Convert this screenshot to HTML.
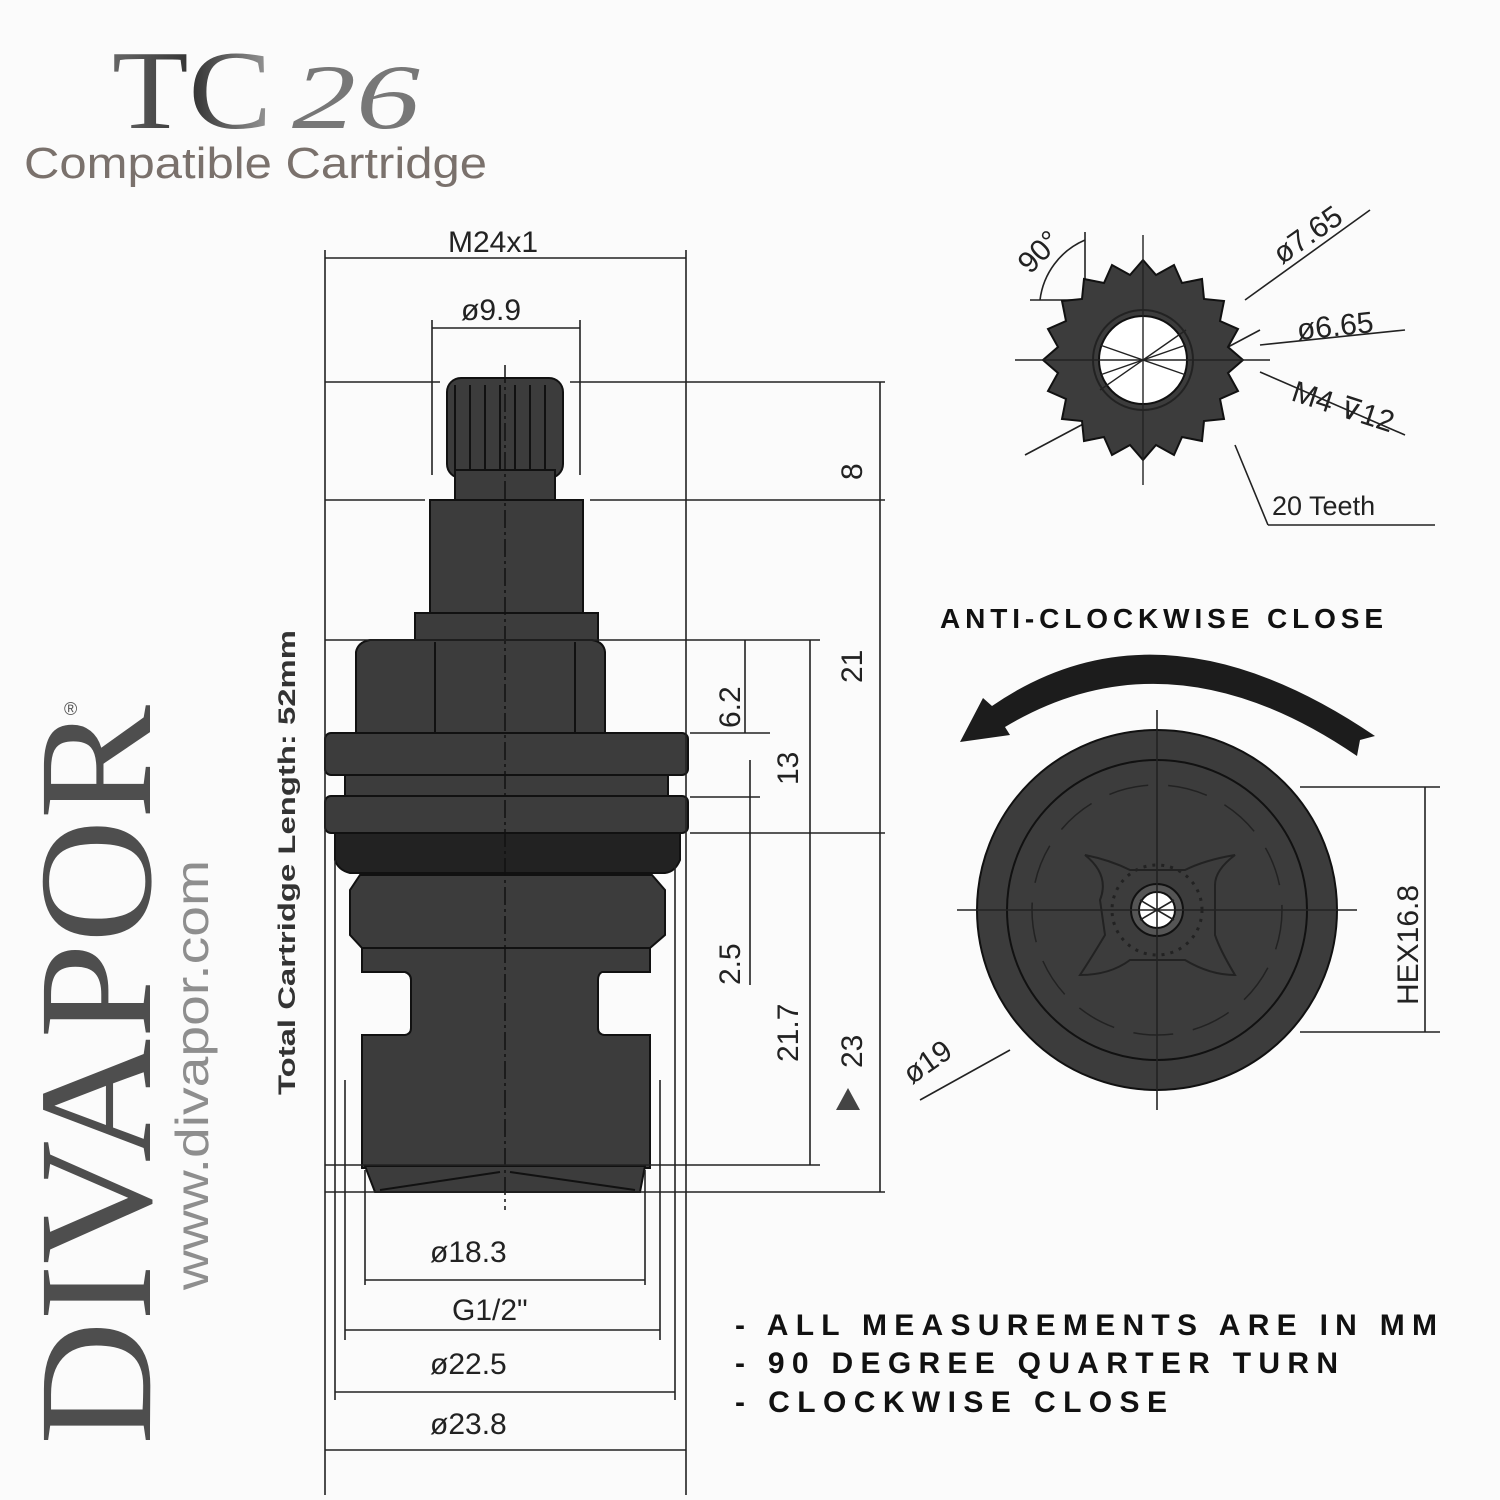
<!DOCTYPE html>
<html><head><meta charset="utf-8"><style>
html,body{margin:0;padding:0;background:#fbfbfb;}
svg{display:block;}
</style></head><body>
<svg width="1500" height="1500" viewBox="0 0 1500 1500" xmlns="http://www.w3.org/2000/svg">
<defs>
<linearGradient id="tg" x1="0" y1="0" x2="1" y2="0">
<stop offset="0" stop-color="#666"/><stop offset="0.5" stop-color="#333"/><stop offset="1" stop-color="#999"/>
</linearGradient>
</defs>
<rect width="1500" height="1500" fill="#fbfbfb"/>

<!-- Title -->
<text x="112" y="128" font-family="Liberation Serif, serif" font-size="112" fill="url(#tg)" textLength="160" lengthAdjust="spacingAndGlyphs">TC</text>
<text x="292" y="128" font-family="Liberation Serif, serif" font-size="92" font-style="italic" fill="#777" textLength="128" lengthAdjust="spacingAndGlyphs">26</text>
<text x="24" y="178" font-family="Liberation Sans, sans-serif" font-size="44" fill="#7a716c" textLength="463" lengthAdjust="spacingAndGlyphs">Compatible Cartridge</text>

<!-- Divapor vertical -->
<text transform="translate(150,1445) rotate(-90)" font-family="Liberation Serif, serif" font-size="162" fill="#4e4e4e" textLength="740" lengthAdjust="spacingAndGlyphs">DIVAPOR</text>
<text transform="translate(64,715)" font-family="Liberation Sans, sans-serif" font-size="18" fill="#555">®</text>
<text transform="translate(208,1290) rotate(-90)" font-family="Liberation Sans, sans-serif" font-size="46" fill="#8e8e8e" textLength="430" lengthAdjust="spacingAndGlyphs">www.divapor.com</text>
<text transform="translate(295,1095) rotate(-90)" font-family="Liberation Sans, sans-serif" font-weight="bold" font-size="24" fill="#333" textLength="465" lengthAdjust="spacingAndGlyphs">Total Cartridge Length: 52mm</text>

<!-- Cartridge body -->
<g fill="#3c3c3c" stroke="#111" stroke-width="2">
<rect x="447" y="378" width="116" height="100" rx="14"/>
<rect x="455" y="470" width="100" height="32"/>
<rect x="430" y="500" width="153" height="114"/>
<rect x="415" y="613" width="183" height="28"/>
<path d="M356 733 L356 652 Q358 642 370 640 L592 640 Q604 642 605 652 L605 733 Z"/>
<rect x="325" y="733" width="363" height="42" rx="6"/>
<rect x="345" y="775" width="323" height="22"/>
<rect x="325" y="796" width="363" height="37" rx="6"/>
<path d="M335 833 L680 833 L680 860 Q675 872 665 873 L350 873 Q338 870 335 860 Z" fill="#222"/>
<path d="M360 875 L652 875 L665 890 L665 935 L650 948 L362 948 L350 935 L350 890 Z"/>
<path d="M362 948 L650 948 L650 972 L602 972 Q598 974 598 980 L598 1028 Q598 1034 604 1035 L650 1035 L650 1168 L362 1168 L362 1035 L405 1035 Q411 1034 411 1028 L411 980 Q411 974 405 972 L362 972 Z"/>
<path d="M365 1166 L645 1166 L640 1192 L375 1192 Z"/>
</g>
<g stroke="#111" stroke-width="2" fill="none">
<line x1="435" y1="642" x2="435" y2="733"/><line x1="575" y1="642" x2="575" y2="733"/>
<line x1="455" y1="385" x2="455" y2="470"/><line x1="470" y1="385" x2="470" y2="470"/><line x1="485" y1="385" x2="485" y2="470"/><line x1="500" y1="385" x2="500" y2="470"/><line x1="515" y1="385" x2="515" y2="470"/><line x1="530" y1="385" x2="530" y2="470"/><line x1="545" y1="385" x2="545" y2="470"/>
<line x1="505" y1="365" x2="505" y2="1210" stroke-dasharray="18 4 3 4" stroke-width="1.5"/>
<line x1="380" y1="1190" x2="500" y2="1172"/><line x1="510" y1="1172" x2="635" y2="1190"/>
</g>

<!-- Dimension / extension lines -->
<g stroke="#222" stroke-width="1.6" fill="none">
<line x1="325" y1="250" x2="325" y2="1495"/><line x1="686" y1="250" x2="686" y2="1495"/>
<line x1="325" y1="258" x2="686" y2="258"/>
<line x1="432" y1="320" x2="432" y2="475"/><line x1="580" y1="320" x2="580" y2="475"/>
<line x1="432" y1="328" x2="580" y2="328"/>
<line x1="325" y1="382" x2="440" y2="382"/><line x1="570" y1="382" x2="885" y2="382"/>
<line x1="325" y1="500" x2="425" y2="500"/><line x1="590" y1="500" x2="885" y2="500"/>
<line x1="325" y1="640" x2="820" y2="640"/>
<line x1="690" y1="733" x2="770" y2="733"/>
<line x1="690" y1="797" x2="760" y2="797"/>
<line x1="690" y1="833" x2="885" y2="833"/>
<line x1="325" y1="1165" x2="820" y2="1165"/>
<line x1="325" y1="1192" x2="885" y2="1192"/>
<line x1="880" y1="382" x2="880" y2="1192"/>
<line x1="810" y1="640" x2="810" y2="1165"/>
<line x1="745" y1="640" x2="745" y2="733"/>
<line x1="750" y1="760" x2="750" y2="985"/>
<line x1="365" y1="1170" x2="365" y2="1285"/><line x1="645" y1="1170" x2="645" y2="1285"/>
<line x1="365" y1="1280" x2="645" y2="1280"/>
<line x1="345" y1="1080" x2="345" y2="1340"/><line x1="660" y1="1080" x2="660" y2="1340"/>
<line x1="345" y1="1330" x2="660" y2="1330"/>
<line x1="335" y1="860" x2="335" y2="1400"/><line x1="675" y1="860" x2="675" y2="1400"/>
<line x1="335" y1="1392" x2="675" y2="1392"/>
<line x1="325" y1="1450" x2="686" y2="1450"/>
</g>
<g font-family="Liberation Sans, sans-serif" font-size="30" fill="#222">
<text x="448" y="252">M24x1</text>
<text x="461" y="320">ø9.9</text>
<text x="430" y="1262">ø18.3</text>
<text x="452" y="1320">G1/2"</text>
<text x="430" y="1374">ø22.5</text>
<text x="430" y="1434">ø23.8</text>
<text transform="translate(862,480) rotate(-90)">8</text>
<text transform="translate(862,683) rotate(-90)">21</text>
<text transform="translate(862,1068) rotate(-90)">23</text>
<text transform="translate(740,728) rotate(-90)">6.2</text>
<text transform="translate(798,785) rotate(-90)">13</text>
<text transform="translate(740,985) rotate(-90)">2.5</text>
<text transform="translate(798,1062) rotate(-90)">21.7</text>
</g>
<polygon points="836,1110 860,1110 848,1088" fill="#444"/>

<!-- Gear view -->
<g stroke="#222" stroke-width="1.6" fill="none">
<path d="M1085 240 A75 75 0 0 0 1040 300"/>
<line x1="1085" y1="232" x2="1085" y2="300"/>
<line x1="1030" y1="300" x2="1095" y2="300"/>
<line x1="1245" y1="300" x2="1370" y2="210"/>
<line x1="1260" y1="345" x2="1405" y2="330"/>
<line x1="1260" y1="372" x2="1405" y2="435"/>
<line x1="1025" y1="455" x2="1260" y2="330"/>
<line x1="1235" y1="445" x2="1268" y2="525"/>
<line x1="1268" y1="525" x2="1435" y2="525"/>
</g>
<polygon fill="#3c3c3c" stroke="#111" stroke-width="2" points="1243,360 1228,373 1238,391 1220,399 1224,419 1204,421 1202,441 1182,437 1174,455 1156,445 1143,460 1130,445 1112,455 1104,437 1084,441 1082,421 1062,419 1066,399 1048,391 1058,373 1043,360 1058,347 1048,329 1066,321 1062,301 1082,299 1084,279 1104,283 1112,265 1130,275 1143,260 1156,275 1174,265 1182,283 1202,279 1204,299 1224,301 1220,321 1238,329 1228,347"/>
<circle cx="1143" cy="360" r="50" fill="none" stroke="#222" stroke-width="2"/>
<circle cx="1143" cy="360" r="44" fill="#fff" stroke="#111" stroke-width="2"/>
<g stroke="#222" stroke-width="1.4">
<line x1="1015" y1="360" x2="1270" y2="360"/><line x1="1143" y1="235" x2="1143" y2="485"/>
<line x1="1100" y1="345" x2="1186" y2="375"/><line x1="1100" y1="375" x2="1186" y2="345"/>
<line x1="1100" y1="390" x2="1186" y2="330"/>
</g>
<g font-family="Liberation Sans, sans-serif" font-size="30" fill="#222">
<text transform="translate(1030,275) rotate(-45)">90°</text>
<text transform="translate(1282,265) rotate(-35)">ø7.65</text>
<text transform="translate(1298,340) rotate(-6)">ø6.65</text>
<text transform="translate(1290,400) rotate(18)">M4 ⊽12</text>
<text x="1272" y="515" font-size="27">20 Teeth</text>
</g>

<!-- Anti-clockwise -->
<text x="940" y="628" font-family="Liberation Sans, sans-serif" font-weight="bold" font-size="28" fill="#111" textLength="443" lengthAdjust="spacing">ANTI-CLOCKWISE CLOSE</text>
<path d="M983 698 L992 706 Q1160 590 1375 736 L1360 740 L1357 756 Q1170 628 1005 727 L1010 735 L960 742 Z" fill="#1c1c1c"/>

<!-- Bottom circle view -->
<circle cx="1157" cy="910" r="180" fill="#3c3c3c" stroke="#111" stroke-width="2"/>
<circle cx="1157" cy="910" r="150" fill="none" stroke="#111" stroke-width="2"/>
<circle cx="1157" cy="910" r="125" fill="none" stroke="#222" stroke-width="1.5" stroke-dasharray="40 20"/>
<path d="M1085 855 Q1110 875 1100 900 L1105 935 Q1090 960 1080 975 Q1110 975 1130 960 L1185 960 Q1210 975 1235 975 Q1220 950 1215 935 L1215 885 Q1215 870 1235 855 Q1205 860 1185 870 L1130 870 Q1110 860 1085 855 Z" fill="none" stroke="#222" stroke-width="2"/>
<circle cx="1157" cy="910" r="45" fill="none" stroke="#222" stroke-width="3" stroke-dasharray="3 6"/>
<circle cx="1157" cy="910" r="26" fill="#555" stroke="#111" stroke-width="2"/>
<circle cx="1157" cy="910" r="18" fill="#fff" stroke="#111" stroke-width="2"/>
<g stroke="#222" stroke-width="1.6" fill="none">
<line x1="957" y1="910" x2="1357" y2="910"/>
<line x1="1157" y1="710" x2="1157" y2="1110"/>
<line x1="1140" y1="900" x2="1174" y2="920"/><line x1="1140" y1="920" x2="1174" y2="900"/>
<line x1="1300" y1="787" x2="1440" y2="787"/>
<line x1="1300" y1="1032" x2="1440" y2="1032"/>
<line x1="1425" y1="787" x2="1425" y2="1032"/>
<line x1="920" y1="1100" x2="1010" y2="1050"/>
</g>
<g font-family="Liberation Sans, sans-serif" font-size="30" fill="#222">
<text transform="translate(1418,1005) rotate(-90)">HEX16.8</text>
<text transform="translate(912,1085) rotate(-35)">ø19</text>
</g>

<!-- Notes -->
<g font-family="Liberation Sans, sans-serif" font-weight="bold" font-size="30" fill="#111">
<text x="735" y="1335" textLength="702" lengthAdjust="spacing">- ALL MEASUREMENTS ARE IN MM</text>
<text x="735" y="1373" textLength="603" lengthAdjust="spacing">- 90 DEGREE QUARTER TURN</text>
<text x="735" y="1412" textLength="432" lengthAdjust="spacing">- CLOCKWISE CLOSE</text>
</g>
</svg>
</body></html>
